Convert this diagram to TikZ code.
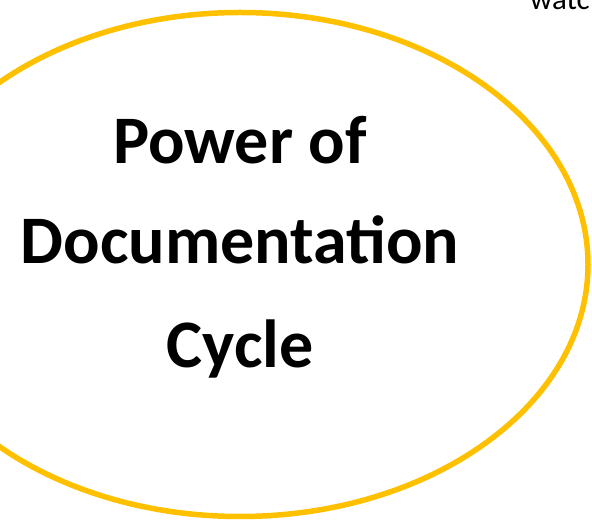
\documentclass[tikz,border=0pt]{standalone}
\usepackage{fontspec}
\setmainfont{Carlito}
\definecolor{gold}{HTML}{FFC000}
\tikzset{
  title/.style={font=\fontsize{68}{68}\selectfont\bfseries, inner sep=0pt, anchor=base, text=black},
  ring/.style={draw=gold, line width=5.5pt}
}
\begin{document}
\begin{tikzpicture}[x=1pt,y=1pt]
\useasboundingbox (0,0) rectangle (592,524);
\begin{scope}
\clip (0,0) rectangle (592,524);
\coordinate (c) at (240,259.5);
\draw[ring] (c) ellipse [x radius=348, y radius=252];
\node[title] (l1) at (240,360) {Power of};
\node[title] (l2) at (240,260) {Documentation};
\node[title] (l3) at (240,156) {Cycle};
\node[font=\fontsize{31}{31}\selectfont, inner sep=0pt, anchor=base west] (w) at (530,514) {watc};
\end{scope}
\end{tikzpicture}
\end{document}
